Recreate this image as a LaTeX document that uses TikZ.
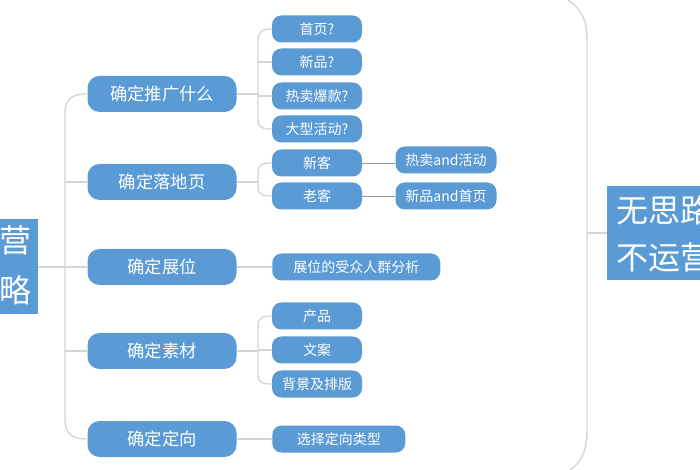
\documentclass[tikz,border=0pt]{standalone}
\usepackage{fontspec}
\newfontfamily\cjk{Noto Sans CJK SC}
\definecolor{bx}{HTML}{5B9BD5}
\definecolor{ln}{HTML}{D5D5D5}
\begin{document}
\begin{tikzpicture}[x=0.75pt,y=-0.75pt,font=\cjk,
 l1/.style={fill=bx,text=white,rounded corners=9pt,minimum width=149*0.75pt,minimum height=36*0.75pt,font=\cjk\fontsize{13}{15}\selectfont,inner sep=0pt},
 l2/.style={fill=bx,text=white,rounded corners=7pt,minimum width=90*0.75pt,minimum height=27*0.75pt,font=\cjk\fontsize{10.5}{12}\selectfont,inner sep=2pt},
 big/.style={fill=bx,text=white,font=\cjk\fontsize{24}{30}\selectfont,align=left,inner sep=0pt},
 con/.style={draw=ln,line width=1pt},
 con3/.style={draw=gray!80,line width=0.6pt}]
\useasboundingbox (0,0) rectangle (700,470);
\clip (0,0) rectangle (700,470);
\fill[white] (0,0) rectangle (700,470);
% big boxes
\node[big,minimum width=100*0.75pt,minimum height=95*0.75pt] (L) at (-12,267) {};
\node[text=white,font=\cjk\fontsize{24}{30}\selectfont,anchor=east] at (36,240) {营};
\node[text=white,font=\cjk\fontsize{24}{30}\selectfont,anchor=east] at (36,290) {略};
\node[big,anchor=west,minimum width=120*0.75pt,minimum height=94*0.75pt] (R) at (607,233) {};
\node[text=white,font=\cjk\fontsize{24}{30}\selectfont,anchor=west] at (612,210) {无思路};
\node[text=white,font=\cjk\fontsize{24}{30}\selectfont,anchor=west] at (612,257) {不运营};
% level 1
\node[l1] (a) at (162,94) {确定推广什么};
\node[l1] (b) at (162,182) {确定落地页};
\node[l1] (c) at (162,267) {确定展位};
\node[l1] (d) at (162,351) {确定素材};
\node[l1] (e) at (162,439) {确定定向};
% level 2
\node[l2] (a1) at (317,29) {首页?};
\node[l2] (a2) at (317,62) {新品?};
\node[l2] (a3) at (317,96) {热卖爆款?};
\node[l2] (a4) at (317,129) {大型活动?};
\node[l2] (b1) at (317,163) {新客};
\node[l2] (b2) at (317,196) {老客};
\node[l2,minimum width=168*0.75pt,anchor=west] (c1) at (272,267) {展位的受众人群分析};
\node[l2] (d1) at (317,316) {产品};
\node[l2] (d2) at (317,350) {文案};
\node[l2] (d3) at (317,384) {背景及排版};
\node[l2,minimum width=133*0.75pt,anchor=west] (e1) at (272,439) {选择定向类型};
\node[l2,minimum width=101*0.75pt] (b1x) at (446,160) {热卖and活动};
\node[l2,minimum width=101*0.75pt] (b2x) at (446,196) {新品and首页};
% spine left
\draw[con] (L.east) -- (65,267);
\draw[con] (a.west) .. controls (70,94) and (65,100) .. (65,115) -- (65,418) .. controls (65,433) and (70,439) .. (e.west);
\draw[con] (b.west) -- (65,182);
\draw[con] (c.west) -- (65,267);
\draw[con] (d.west) -- (65,351);
% level 2 brackets
\draw[con] (a.east) -- (258,94);
\draw[con] (a1.west) .. controls (262,29) and (258,32) .. (258,40) -- (258,120) .. controls (258,127) and (262,129) .. (a4.west);
\draw[con] (a2.west) -- (258,62); \draw[con] (a3.west) -- (258,96);
\draw[con] (b.east) -- (258,182);
\draw[con] (b1.west) .. controls (262,163) and (258,165) .. (258,172) -- (258,188) .. controls (258,194) and (262,196) .. (b2.west);
\draw[con] (c.east) -- (c1.west);
\draw[con] (d.east) -- (258,351);
\draw[con] (d1.west) .. controls (262,316) and (258,318) .. (258,326) -- (258,375) .. controls (258,382) and (262,384) .. (d3.west);
\draw[con] (d2.west) -- (258,350);
\draw[con] (e.east) -- (e1.west);
\draw[con3] (b1.east) -- (b1x.west |- b1.east);
\draw[con3] (b2.east) -- (b2x.west);
% right arc
\draw[con] (R.west) -- (587,233);
\draw[con] (568,0) .. controls (582,10) and (587,20) .. (587,40) -- (587,430) .. controls (587,450) and (582,462) .. (570,470);
\end{tikzpicture}
\end{document}
